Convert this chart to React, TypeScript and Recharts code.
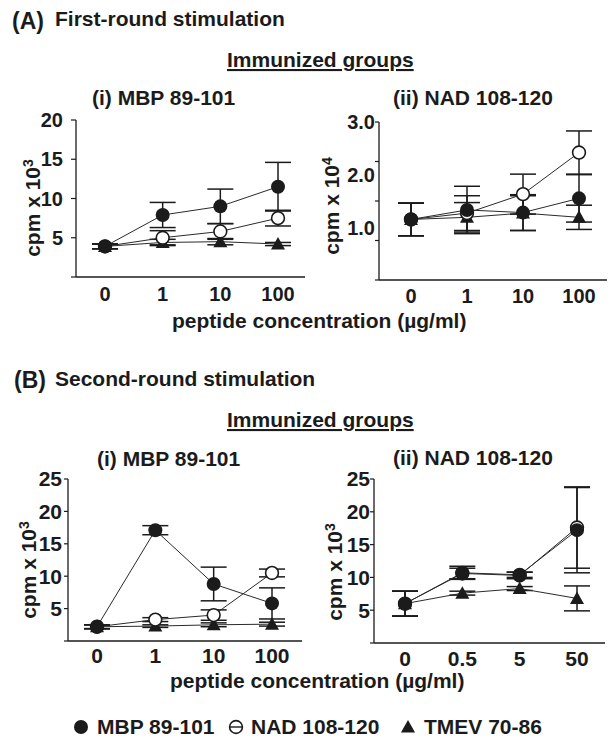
import React from 'react';
import { LineChart, Line, XAxis, YAxis, ErrorBar } from 'recharts';

const INK = '#1b1b1b';
const FONT = "'Liberation Sans', Arial, Helvetica, sans-serif";

// peptide concentration (µg/ml) categories
const DOSES_A = ['0', '1', '10', '100'];
const DOSES_B_NAD = ['0', '0.5', '5', '50'];

// (A)(i) MBP 89-101 immunized, cpm x 10^3
const A1_MBP = [3.9, 7.9, 9.0, 11.5];
const A1_MBP_ERR = [0.3, 1.6, 2.2, 3.1];
const A1_NAD = [3.9, 5.0, 5.8, 7.5];
const A1_NAD_ERR = [0.3, 0.9, 1.0, 1.0];
const A1_TMEV = [3.9, 4.4, 4.5, 4.2];
const A1_TMEV_ERR = [0.3, 0.4, 0.4, 0.2];

// (A)(ii) NAD 108-120 immunized, cpm x 10^4
const A2_MBP = [1.15, 1.33, 1.28, 1.55];
const A2_MBP_ERR = [0.31, 0.45, 0.34, 0.45];
const A2_NAD = [1.15, 1.27, 1.63, 2.42];
const A2_NAD_ERR = [0.31, 0.33, 0.38, 0.41];
const A2_TMEV = [1.15, 1.19, 1.27, 1.19];
const A2_TMEV_ERR = [0.31, 0.28, 0.33, 0.23];

// (B)(i) MBP 89-101 immunized, cpm x 10^3
const B1_MBP = [2.2, 17.1, 8.8, 5.8];
const B1_MBP_ERR = [0.3, 0.7, 2.6, 2.4];
const B1_NAD = [2.2, 3.3, 4.0, 10.5];
const B1_NAD_ERR = [0.3, 0.3, 0.8, 0.6];
const B1_TMEV = [2.2, 2.3, 2.5, 2.6];
const B1_TMEV_ERR = [0.3, 0.2, 0.3, 0.3];

// (B)(ii) NAD 108-120 immunized, cpm x 10^3
const B2_MBP = [6.0, 10.7, 10.4, 17.2];
const B2_MBP_ERR = [1.9, 1.0, 0.4, 6.5];
const B2_NAD = [6.0, 10.6, 10.3, 17.6];
const B2_NAD_ERR = [1.9, 0.8, 0.5, 6.2];
const B2_TMEV = [6.0, 7.6, 8.3, 6.8];
const B2_TMEV_ERR = [1.9, 0.3, 0.3, 1.9];

// y ticks
const TICKS_A1 = [0, 5, 10, 15, 20];
const TICKS_B = [0, 5, 10, 15, 20, 25];
const A2_MARKS = [0, 0.75, 1.5, 2.25, 3];
const A2_LABELS = [1, 2, 3];
const A2_TICKS = [0, 0.75, 1, 1.5, 2, 2.25, 3];

// draw order (MBP on top); legend order is reversed
const SERIES = [
  { key: 'tmev', name: 'TMEV 70-86', shape: 'triangle' },
  { key: 'nad', name: 'NAD 108-120', shape: 'open' },
  { key: 'mbp', name: 'MBP 89-101', shape: 'filled' },
];

function rows(doses: string[], mbp: number[], mbpErr: number[], nad: number[], nadErr: number[], tmev: number[], tmevErr: number[]) {
  return doses.map((dose, i) => ({
    dose,
    mbp: mbp[i],
    mbpErr: mbpErr[i],
    nad: nad[i],
    nadErr: nadErr[i],
    tmev: tmev[i],
    tmevErr: tmevErr[i],
  }));
}

const dataA1 = rows(DOSES_A, A1_MBP, A1_MBP_ERR, A1_NAD, A1_NAD_ERR, A1_TMEV, A1_TMEV_ERR);
const dataA2 = rows(DOSES_A, A2_MBP, A2_MBP_ERR, A2_NAD, A2_NAD_ERR, A2_TMEV, A2_TMEV_ERR);
const dataB1 = rows(DOSES_A, B1_MBP, B1_MBP_ERR, B1_NAD, B1_NAD_ERR, B1_TMEV, B1_TMEV_ERR);
const dataB2 = rows(DOSES_B_NAD, B2_MBP, B2_MBP_ERR, B2_NAD, B2_NAD_ERR, B2_TMEV, B2_TMEV_ERR);

function Marker({ shape, cx, cy }: { shape: string; cx: number; cy: number }) {
  if (shape === 'filled') return <circle cx={cx} cy={cy} r={7} fill={INK} />;
  if (shape === 'open')
    return <circle cx={cx} cy={cy} r={6.4} fill="#fff" stroke={INK} strokeWidth={1.6} />;
  return (
    <polygon
      points={`${cx},${cy - 7} ${cx + 7},${cy + 5.5} ${cx - 7},${cy + 5.5}`}
      fill={INK}
    />
  );
}

const label = {
  fill: INK,
  fontFamily: FONT,
  fontWeight: 700,
  fontSize: 21,
};

function A2Tick(p: any) {
  const v = p.payload.value;
  return (
    <g>
      {A2_MARKS.includes(v) && (
        <line x1={p.x} x2={p.x + 4} y1={p.y} y2={p.y} stroke={INK} strokeWidth={1.2} />
      )}
      {A2_LABELS.includes(v) && (
        <text x={p.x} y={p.y} dy="0.36em" textAnchor="end" fill={INK} fontFamily={FONT} fontWeight={700} fontSize={20}>
          {v.toFixed(1)}
        </text>
      )}
    </g>
  );
}

type PanelProps = {
  data: any[];
  left: number;
  top: number;
  width: number;
  height: number;
  margin: { top: number; right: number; bottom: number; left: number };
  yWidth: number;
  pad: { left: number; right: number };
  domain: [number, number];
  yTicks: number[];
  customTick?: boolean;
  yTickSize: number;
  yTickMargin: number;
  xTickMargin: number;
  fontSize: number;
};

function Panel(props: PanelProps) {
  const axisLine = { stroke: INK, strokeWidth: 1.3 };
  const tickStyle = { fill: INK, fontSize: props.fontSize, fontWeight: 700, fontFamily: FONT };
  return (
    <div style={{ position: 'absolute', left: props.left, top: props.top }}>
      <LineChart width={props.width} height={props.height} data={props.data} margin={props.margin}>
        <XAxis
          dataKey="dose"
          interval={0}
          padding={props.pad}
          height={30}
          tickLine={false}
          tickSize={0}
          tickMargin={props.xTickMargin}
          axisLine={axisLine}
          tick={tickStyle}
        />
        <XAxis
          xAxisId="top"
          dataKey="dose"
          orientation="top"
          height={0}
          padding={props.pad}
          tick={false}
          tickLine={false}
          axisLine={axisLine}
        />
        <YAxis
          type="number"
          domain={props.domain}
          ticks={props.yTicks}
          interval={0}
          width={props.yWidth}
          tickSize={props.yTickSize}
          tickMargin={props.yTickMargin}
          axisLine={axisLine}
          tickLine={props.customTick ? false : { stroke: INK, strokeWidth: 1.2 }}
          tick={props.customTick ? (p: any) => <A2Tick {...p} /> : tickStyle}
          tickFormatter={(v: number) => (v === 0 ? '' : String(v))}
          allowDataOverflow
        />
        <YAxis
          yAxisId="right"
          orientation="right"
          type="number"
          domain={[0, 1]}
          width={0}
          tick={false}
          tickLine={false}
          axisLine={axisLine}
        />
        {SERIES.map((s) => (
          <Line
            key={s.key}
            dataKey={s.key}
            stroke="#2a2a2a"
            strokeWidth={1}
            isAnimationActive={false}
            activeDot={false}
            dot={(p: any) => <Marker key={p.index} shape={s.shape} cx={p.cx} cy={p.cy} />}
          >
            <ErrorBar
              dataKey={s.key + 'Err'}
              width={13}
              stroke={INK}
              strokeWidth={1.5}
              isAnimationActive={false}
            />
          </Line>
        ))}
      </LineChart>
    </div>
  );
}

function YLabel({ cx, cy, exp }: { cx: number; cy: number; exp: string }) {
  return (
    <text transform={`translate(${cx},${cy}) rotate(-90)`} textAnchor="middle" style={label}>
      <tspan dy="0.36em">cpm x 10</tspan>
      <tspan dy="-0.5em" fontSize={14}>
        {exp}
      </tspan>
    </text>
  );
}

function LegendItem({ x, tx, shape, name }: { x: number; tx: number; shape: string; name: string }) {
  const cy = 727;
  return (
    <g>
      <Marker shape={shape} cx={x} cy={cy} />
      {shape === 'open' && <line x1={x - 6} x2={x + 6} y1={cy} y2={cy} stroke={INK} strokeWidth={1.4} />}
      <text x={tx} y={734} style={label}>
        {name}
      </text>
    </g>
  );
}

const LEGEND_X = [81, 236, 408];
const LEGEND_TEXT_X = [97, 251, 424];

export default function App() {
  const legend = [...SERIES].reverse();
  return (
    <div style={{ position: 'absolute', left: 0, top: 0, width: 616, height: 740, background: '#fff' }}>
      <svg width={616} height={740} style={{ position: 'absolute', left: 0, top: 0 }}>
        <text x={12} y={29} style={{ ...label, fontSize: 23 }}>(A)</text>
        <text x={55} y={26} style={label}>First-round stimulation</text>
        <text x={227} y={67} style={{ ...label, textDecoration: 'underline' }}>Immunized groups</text>
        <text x={92} y={105} style={label}>(i) MBP 89-101</text>
        <text x={393} y={105} style={label}>(ii) NAD 108-120</text>
        <YLabel cx={32} cy={208} exp="3" />
        <YLabel cx={331} cy={206} exp="4" />
        <text x={172} y={328} style={label}>peptide concentration (µg/ml)</text>

        <text x={14} y={388} style={{ ...label, fontSize: 23 }}>(B)</text>
        <text x={55} y={386} style={label}>Second-round stimulation</text>
        <text x={227} y={427} style={{ ...label, textDecoration: 'underline' }}>Immunized groups</text>
        <text x={97} y={466} style={label}>(i) MBP 89-101</text>
        <text x={393} y={465} style={label}>(ii) NAD 108-120</text>
        <YLabel cx={28} cy={570} exp="3" />
        <YLabel cx={334} cy={572} exp="3" />
        <text x={170} y={688} style={label}>peptide concentration (µg/ml)</text>

        {legend.map((s, i) => (
          <LegendItem key={s.key} x={LEGEND_X[i]} tx={LEGEND_TEXT_X[i]} shape={s.shape} name={s.name} />
        ))}
      </svg>

      <Panel
        data={dataA1}
        left={0}
        top={80}
        width={310}
        height={230}
        margin={{ top: 40, right: 5, bottom: 3, left: 16 }}
        yWidth={60}
        pad={{ left: 29, right: 27 }}
        domain={[0, 20]}
        yTicks={TICKS_A1}
        yTickSize={5}
        yTickMargin={8}
        xTickMargin={10}
        fontSize={20}
      />
      <Panel
        data={dataA2}
        left={310}
        top={80}
        width={300}
        height={232}
        margin={{ top: 42, right: 3, bottom: 2, left: 29 }}
        yWidth={40}
        pad={{ left: 32, right: 28 }}
        domain={[0, 3]}
        yTicks={A2_TICKS}
        customTick
        yTickSize={4}
        yTickMargin={0}
        xTickMargin={9}
        fontSize={20}
      />
      <Panel
        data={dataB1}
        left={0}
        top={440}
        width={306}
        height={232}
        margin={{ top: 39, right: 4, bottom: 1, left: 18 }}
        yWidth={50}
        pad={{ left: 29, right: 30 }}
        domain={[0, 25]}
        yTicks={TICKS_B}
        yTickSize={4}
        yTickMargin={2}
        xTickMargin={7}
        fontSize={21}
      />
      <Panel
        data={dataB2}
        left={306}
        top={440}
        width={306}
        height={234}
        margin={{ top: 39, right: 7, bottom: 1, left: 28 }}
        yWidth={40}
        pad={{ left: 31, right: 28 }}
        domain={[0, 25]}
        yTicks={TICKS_B}
        yTickSize={4}
        yTickMargin={0}
        xTickMargin={8}
        fontSize={21}
      />
    </div>
  );
}
